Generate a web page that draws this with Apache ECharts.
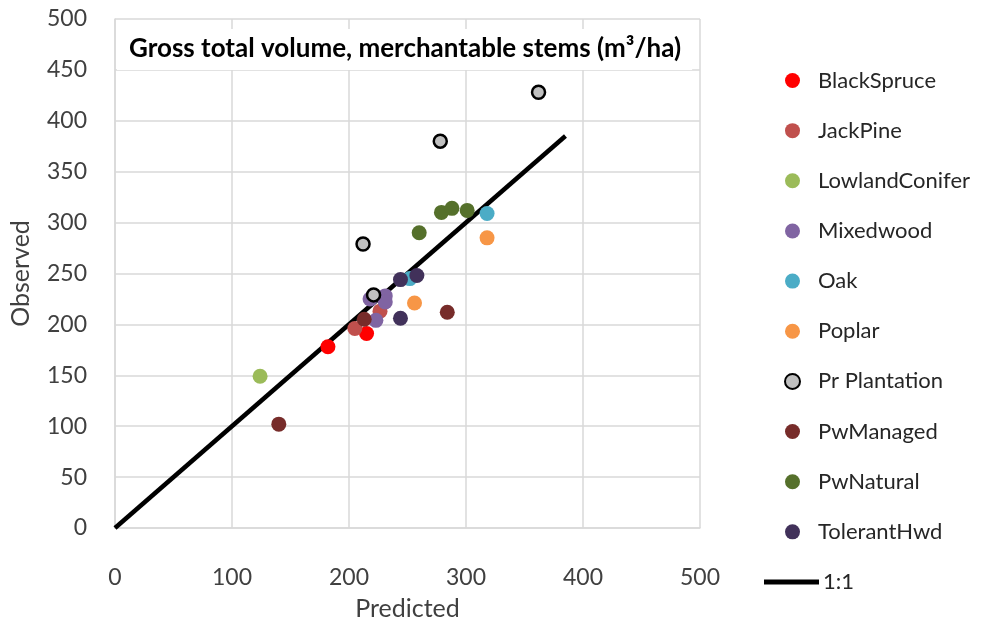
<!DOCTYPE html>
<html>
<head>
<meta charset="utf-8">
<script src="https://cdn.jsdelivr.net/npm/echarts@6/dist/echarts.min.js"></script>
<style>html,body{margin:0;padding:0;background:#fff}#c{width:1001px;height:626px}</style>
</head>
<body>
<div id="c"></div>
<script>
const seriesNames = ['BlackSpruce','JackPine','LowlandConifer','Mixedwood','Oak','Poplar','Pr Plantation','PwManaged','PwNatural','TolerantHwd'];
const blackSpruce = [[182,178],[215,191]];
const jackPine = [[205,196],[226.5,213]];
const lowlandConifer = [[124,149]];
const mixedwood = [[218,225],[231,228],[231,222],[223,204]];
const oak = [[252,245],[318,309]];
const poplar = [[256,221],[318,285]];
const prPlantation = [[212,279],[221,229],[278,380],[362,428]];
const pwManaged = [[140,102],[213,205],[284,212]];
const pwNatural = [[260,290],[279,310],[288,314],[301,312]];
const tolerantHwd = [[244,244],[258,248],[244,206]];
const oneToOne = [[0,0],[385,385]];
const xTicks = [0,100,200,300,400,500];
const yTicks = [0,50,100,150,200,250,300,350,400,450,500];
const colors = ['#ff0000','#c0504d','#9bbb59','#8064a2','#4bacc6','#f79646','#c0c0c0','#772c2a','#55702b','#41315a'];
const values = [blackSpruce,jackPine,lowlandConifer,mixedwood,oak,poplar,prPlantation,pwManaged,pwNatural,tolerantHwd];

const FONT = 'Lato';
const chart = echarts.init(document.getElementById('c'), null, {renderer:'canvas'});
const scatterSeries = seriesNames.map((n,i)=>({
  name:n, type:'scatter', data:values[i], symbol:'circle',
  symbolSize: n==='Pr Plantation' ? 13 : 15, z:3,
  itemStyle: n==='Pr Plantation' ? {color:colors[i], borderColor:'#000', borderWidth:2.5, opacity:1} : {color:colors[i], opacity:1}
}));
chart.setOption({
  animation:false,
  backgroundColor:'#fff',
  title:{
    text:'Gross total volume, merchantable stems (m³/ha)',
    left:117, top:29, backgroundColor:'#fff', padding:[7,11,8,12],
    textStyle:{fontFamily:FONT, fontSize:26, lineHeight:26, fontWeight:'bold', color:'#000'}
  },
  grid:{left:115, right:301, top:19, bottom:92, containLabel:false},
  xAxis:{
    type:'value', min:0, max:500, interval:100,
    name:'Predicted', nameLocation:'middle', nameGap:68,
    nameTextStyle:{fontFamily:FONT, fontSize:25, lineHeight:25, color:'#404040'},
    axisLine:{show:true, lineStyle:{color:'#d9d9d9', width:1.5}},
    axisTick:{show:false},
    axisLabel:{margin:38, fontFamily:FONT, fontSize:23, lineHeight:23, color:'#404040', customValues: xTicks},
    splitLine:{show:true, lineStyle:{color:'#d9d9d9', width:1.5}}
  },
  yAxis:{
    type:'value', min:0, max:500, interval:50,
    name:'Observed', nameLocation:'middle', nameGap:82,
    nameTextStyle:{fontFamily:FONT, fontSize:25, lineHeight:25, color:'#404040'},
    axisLine:{show:true, lineStyle:{color:'#d9d9d9', width:1.5}},
    axisTick:{show:false},
    axisLabel:{margin:28, fontFamily:FONT, fontSize:23, lineHeight:23, color:'#404040', customValues: yTicks},
    splitLine:{show:true, lineStyle:{color:'#d9d9d9', width:1.5}}
  },
  legend:[{
    orient:'vertical', left:779, top:64.5, itemWidth:15, itemHeight:15, itemGap:28.15,
    data: seriesNames.map(n=>({name:n, icon:'circle'})),
    textStyle:{fontFamily:FONT, fontSize:22, color:'#262626', lineHeight:22, padding:[0,0,0,13]},
    selectedMode:false
  },{
    orient:'vertical', left:759, top:566, itemWidth:55, itemHeight:5,
    data:[{name:'1:1', icon:'rect'}],
    textStyle:{fontFamily:FONT, fontSize:22, color:'#262626', lineHeight:22, padding:[0,0,0,-1]},
    selectedMode:false
  }],
  series:[{
    name:'1:1', type:'line', data:oneToOne, symbol:'none', z:2,
    lineStyle:{color:'#000', width:4.5}, itemStyle:{color:'#000'}
  }].concat(scatterSeries)
});
</script>
</body>
</html>
